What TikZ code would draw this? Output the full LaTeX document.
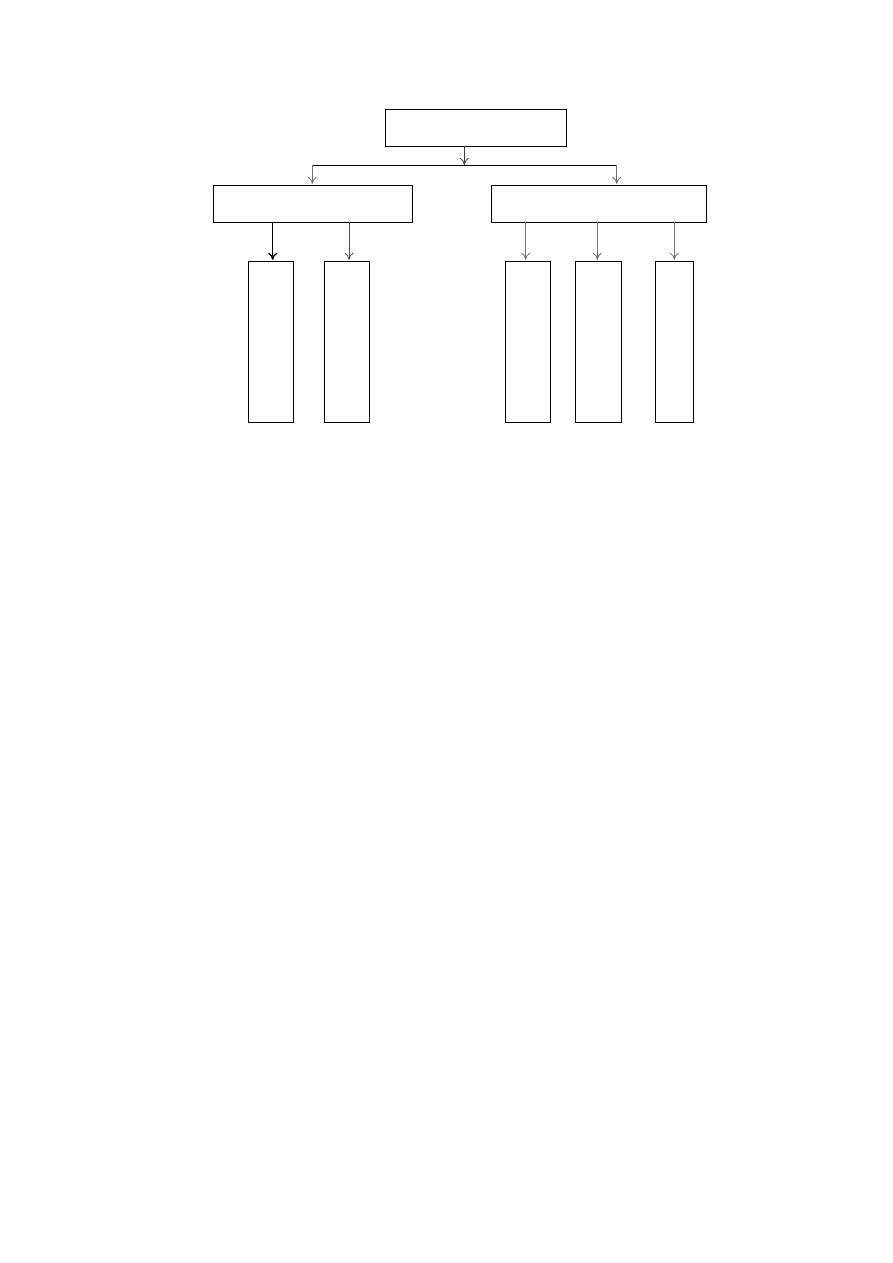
\documentclass[tikz,border=0pt]{standalone}
\usetikzlibrary{arrows.meta}
\begin{document}
\begin{tikzpicture}[x=1pt,y=-1pt,
  boxn/.style={draw=black,line width=0.9pt,inner sep=0pt,outer sep=0pt,fill=none},
  arr/.style={line width=0.8pt,shorten >=1.5pt,-{To[length=7pt,width=9pt]}},
  garr/.style={arr,draw=black!55},
  darr/.style={arr,draw=black!75}]
\useasboundingbox (0,0) rectangle (893,1263);
\fill[white] (0,0) rectangle (893,1263);
% top box
\node[boxn,minimum width=181.5pt,minimum height=36.7pt] (top) at (476,127.7) {};
% middle boxes
\node[boxn,minimum width=199pt,minimum height=37pt] (ml) at (312.8,203.8) {};
\node[boxn,minimum width=215pt,minimum height=37pt] (mr) at (599.2,203.8) {};
% bottom boxes
\node[boxn,minimum width=45pt,minimum height=161pt] (b1) at (270.8,341.8) {};
\node[boxn,minimum width=45pt,minimum height=161pt] (b2) at (346.8,341.8) {};
\node[boxn,minimum width=45.4pt,minimum height=161pt] (b3) at (528,341.8) {};
\node[boxn,minimum width=46.4pt,minimum height=161pt] (b4) at (598.5,341.8) {};
\node[boxn,minimum width=38pt,minimum height=161pt] (b5) at (674.3,341.8) {};
% junction line
\coordinate (jm) at (464.3,165);
\coordinate (jl) at (312.3,165);
\coordinate (jr) at (616.7,165);
\draw[darr,shorten >=0pt] (top.south -| jm) -- (jm);
\draw[line width=0.9pt] (jl) -- (jr);
\draw[garr] (jl) -- (jl |- ml.north);
\draw[garr] (jr) -- (jr |- mr.north);
% left children
\draw[arr,line width=1.3pt,draw=black] (ml.south -| 272.7,0) -- (272.7,261.3);
\draw[arr,draw=black!70] (ml.south -| 349,0) -- (349,261.3);
% right children
\draw[garr] (mr.south -| 525.7,0) -- (525.7,261.3);
\draw[garr] (mr.south -| 597.3,0) -- (597.3,261.3);
\draw[garr] (mr.south -| 674.3,0) -- (674.3,261.3);
\end{tikzpicture}
\end{document}
